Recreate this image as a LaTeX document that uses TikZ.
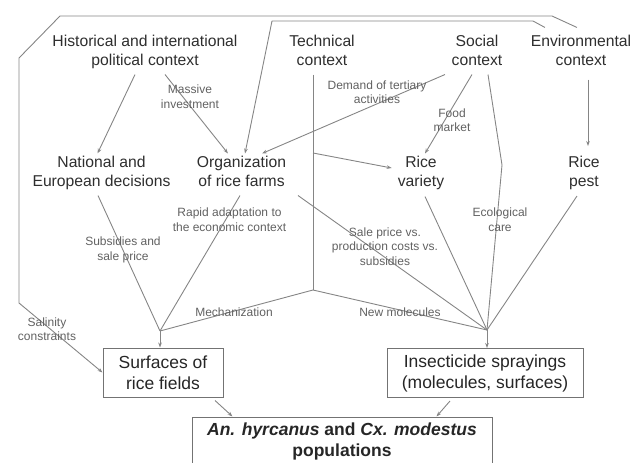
\documentclass[tikz,border=0pt]{standalone}
\usepackage{fontspec}
\setmainfont{Liberation Sans}
\usetikzlibrary{
  arrows.meta,
  positioning,  % Function "of" (e.g. [below=of x])
  calc,         % Calculations $...$
}
\newcommand{\ctxfont}{\fontsize{15.7}{19}\selectfont}
\newcommand{\lblfont}{\fontsize{12}{14.5}\selectfont}
\newcommand{\boxfont}{\fontsize{17.5}{21}\selectfont}
\tikzset{
  >={Stealth[length=5pt,width=3.6pt]},
  link/.style={
    draw=black!48,
    line width=0.9pt,
    line join=round
  },
  my context/.style={
    align=center,
    font=\ctxfont,
    text=black!82,
    inner sep=2pt,
    execute at end node=\vphantom{p}
  },
  my label/.style={
    align=center,
    font=\lblfont,
    text=black!62,
    inner sep=0pt
  },
  my box/.style={
    draw=black!55,
    line width=1pt,
    align=center,
    font=\boxfont,
    text=black!85,
    minimum height=49pt
  }
}

\begin{document}
\begin{tikzpicture}[x=1pt,y=-1pt]
\useasboundingbox (0,0) rectangle (633,463);
% Contexts (top row)
\node[my context] (hist)   at (145,51.5) {Historical and international\\political context};
\node[my context] (tech)   at (322,51.5) {Technical\\context};
\node[my context] (social) at (477,51.5) {Social\\context};
\node[my context] (env)    at (581,51.5) {Environmental\\context};
% Middle row
\node[my context] (nat)     at (101.5,172.5) {National and\\European decisions};
\node[my context] (org)     at (241.5,172.5) {Organization\\of rice farms};
\node[my context] (variety) at (421,172.5) {Rice\\variety};
\node[my context,xshift=3pt] (pest) [below=83.5pt of env] {Rice\\pest};
% Boxes
\node[my box,minimum width=120pt] (surf) at (163,372.5) {Surfaces of\\rice fields};
\node[my box,minimum width=196pt] (ins)  at (485,373) {Insecticide sprayings\\(molecules, surfaces)};
\node[my box,minimum width=300pt,minimum height=48pt,font=\boxfont\bfseries] (pop) at (342,441)
  {\textit{An. hyrcanus} and \textit{Cx. modestus}\\populations};
% Junctions
\coordinate (sj) at (160,331);
\coordinate (ij) at (487,330);
\coordinate (tj) at (313,290);
\coordinate (tb) at (313,153);
% Environmental context
\draw[link,->] ($(env.north)+(-4,-5)$) -- (552,16) -- (60,16) -- (19,58) -- (19,303) -- (surf.west);
\draw[link,->] ($(env.north)+(-36,-5)$) -- (533,21) -- (272,21) -- ($(org.north)+(3.5,0)$);
\draw[link,->] ($(env.south)+(7,9)$) -- ($(pest.north)+(4,-8)$);
\node[my label] (l-sal) at (47,329) {Salinity\\constraints};
% Historical context
\draw[link,->] ($(hist.south)+(-10,4)$) -- ($(nat.north)+(-4,0)$);
\draw[link,->] ($(hist.south)+(20,4)$) -- ($(org.north)+(-13.5,0)$);
\node[my label] (l-inv) at (190,96.5) {Massive\\investment};
% Social context
\draw[link,->] ($(social.south)+(-32,4)$) -- ($(org.north)+(20.5,0)$);
\draw[link,->] ($(social.south)+(-5,4)$) -- ($(variety.north)+(4,0)$);
\draw[link] ($(social.south)+(11,4)$) -- (502,165) -- (ij);
\node[my label] (l-ter) at (377,92) {Demand of tertiary\\activities};
\node[my label] (l-food) at (452,120) {Food\\market};
\node[my label] (l-eco) at (500,219.5) {Ecological\\care};
% Technical context
\draw[link] ($(tech.south)+(-9,4)$) -- (tj);
\draw[link,->] (tb) -- ($(variety.west)+(-4,-4.5)$);
\draw[link] (tj) -- (sj);
\draw[link] (tj) -- (ij);
\node[my label] (l-mech) at (234,312) {Mechanization};
\node[my label] (l-mol) at (400,312) {New molecules};
% Towards the surfaces
\draw[link] ($(nat.south)+(-3.5,4)$) -- (sj);
\draw[link] ($(org.south)+(-1.5,4)$) -- (sj);
\draw[link,->] (sj) -- (sj |- surf.north);
\node[my label] (l-sub) at (123,250) {Subsidies and\\sale price};
\node[my label] (l-rap) at (229.5,219.5) {Rapid adaptation to\\the economic context};
% Towards the sprayings
\draw[link] ($(org.south)+(56.5,4)$) -- (ij);
\draw[link] ($(variety.south)+(4,5)$) -- (ij);
\draw[link] ($(pest.south)+(-7,4)$) -- (ij);
\draw[link,->] (ij) -- (ij |- ins.north);
\node[my label] (l-sale) at (385,246.5) {Sale price vs.\\production costs vs.\\subsidies};
% Populations
\draw[link,->] ($(surf.south)+(52,3)$) -- ($(pop.north west)+(41,0)$);
\draw[link,->] ($(ins.south)+(-35,3)$) -- ($(pop.north east)+(-56,0)$);
\end{tikzpicture}
\end{document}
